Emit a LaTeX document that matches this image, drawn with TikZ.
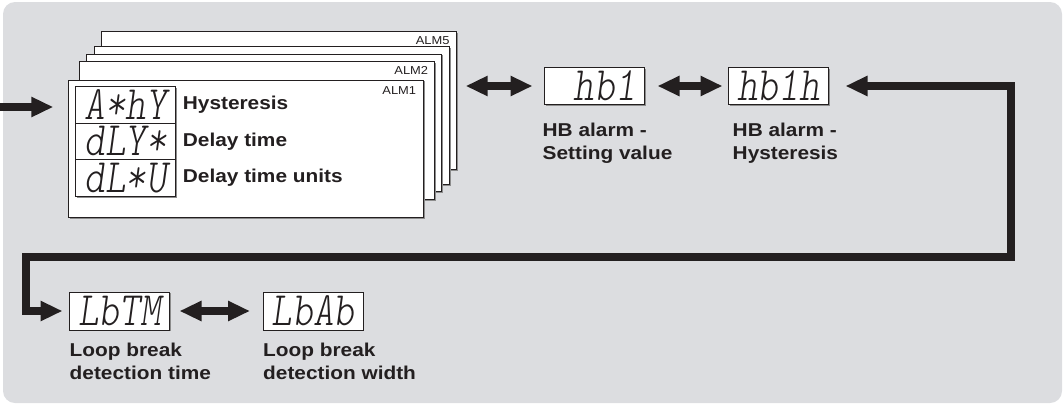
\documentclass[tikz,border=0pt]{standalone}
\usepackage{fontspec}
\setmainfont{Liberation Sans}[FakeStretch=1.12]
\newfontfamily\segfont{lmmonolt10-oblique.otf}[FakeStretch=0.82]
\usetikzlibrary{calc}
\usetikzlibrary{positioning}
\usetikzlibrary{arrows.meta}
\usetikzlibrary{shadows}

\definecolor{panel}{HTML}{DCDDE0}
\definecolor{ink}{HTML}{231F20}

\tikzset{
	shade/.style={drop shadow={shadow xshift=1.3pt, shadow yshift=-1.3pt, fill=black!45, opacity=1}},
	card/.style={draw=ink, fill=white, line width=0.8pt, shade, anchor=north west,
		minimum width=355pt, minimum height=137.5pt, inner sep=0pt, outer sep=0pt},
	almtag/.style={anchor=north east, inner sep=0pt, text=ink, font=\fontsize{11.5}{12}\selectfont},
	seg/.style={draw=ink, fill=white, line width=0.8pt, shade, minimum width=100pt, minimum height=36.5pt,
		inner sep=0pt, outer sep=0pt, text=ink, text height=30pt, text depth=1pt,
		font=\segfont\fontsize{48}{48}\selectfont},
	caption/.style={inner sep=0pt, text=ink, align=left, font=\bfseries\fontsize{18.6}{23}\selectfont},
	flow/.style={draw=ink, line width=7.5pt, >={Triangle[length=22pt, width=19pt]}},
}

\begin{document}
\begin{tikzpicture}[x=1pt, y=-1pt]
	\useasboundingbox (0, 0) rectangle (1064, 405);
	\fill[panel, rounded corners=12pt] (3, 2) rectangle (1062, 403);

	% stack of alarm cards, back to front
	\foreach \n/\x/\y in {5/101.7/31.7, 4/94.3/46.7, 3/86.7/54, 2/79.3/61.7, 1/68.3/80}
		\node[card] (alm\n) at (\x, \y) {};
	\node[almtag] (tag5) at ([xshift=-7pt, yshift=-5pt]alm5.north east) {ALM5};
	\node[almtag] (tag2) at ([xshift=-6pt, yshift=-5pt]alm2.north east) {ALM2};
	\node[almtag] (tag1) at ([xshift=-7pt, yshift=-6pt]alm1.north east) {ALM1};

	\node[seg, anchor=north west] (ahy) at ([xshift=7.4pt, yshift=-6.7pt]alm1.north west) {A*hY};
	\node[seg, below=0pt of ahy] (dly) {dLY*};
	\node[seg, below=0pt of dly] (dlu) {dL*U};
	\node[caption, right=7pt of ahy] (thys) {Hysteresis};
	\node[caption, right=7pt of dly] (tdly) {Delay time};
	\node[caption, right=7pt of dlu] (tdlu) {Delay time units};

	% HB alarm
	\node[seg] (hbset) at (594.5, 86) {\phantom{h}hb1};
	\node[seg] (hbhys) at (778.5, 86) {hb1h};
	\node[caption, anchor=north west] (thbset) at ([xshift=-2pt, yshift=-19pt]hbset.south west) {HB alarm -\\Setting value};
	\node[caption, anchor=north west] (thbhys) at ([xshift=4pt, yshift=-19pt]hbhys.south west) {HB alarm -\\Hysteresis};

	% loop break
	\node[seg, minimum height=38pt] (lbtm) at (119.5, 311) {LbTM};
	\node[seg, minimum height=38pt] (lbab) at (313, 311) {LbAb};
	\node[caption, anchor=north west] (tlbtm) at ([yshift=-13pt]lbtm.south west) {Loop break\\detection time};
	\node[caption, anchor=north west] (tlbab) at ([yshift=-13pt]lbab.south west) {Loop break\\detection width};

	\coordinate (entry) at (0, 107);
	\coordinate (turnA) at (1011, 86);
	\coordinate (turnB) at (1011, 257);
	\coordinate (turnC) at (26, 257);

	\draw[flow, ->, shorten >=15pt] (entry) -- (entry -| alm1.west);
	\draw[flow, <->, shorten <=9pt, shorten >=12pt] (alm5.east |- hbset) -- (hbset.west);
	\draw[flow, <->, shorten <=13pt, shorten >=6pt] (hbset.east) -- (hbhys.west);
	\draw[flow, <->, shorten <=17pt, shorten >=7pt] (hbhys.east) -- (turnA) -- (turnB) -- (turnC) |- (lbtm.west);
	\draw[flow, <->, shorten <=10pt, shorten >=13pt] (lbtm.east) -- (lbab.west);
\end{tikzpicture}
\end{document}
